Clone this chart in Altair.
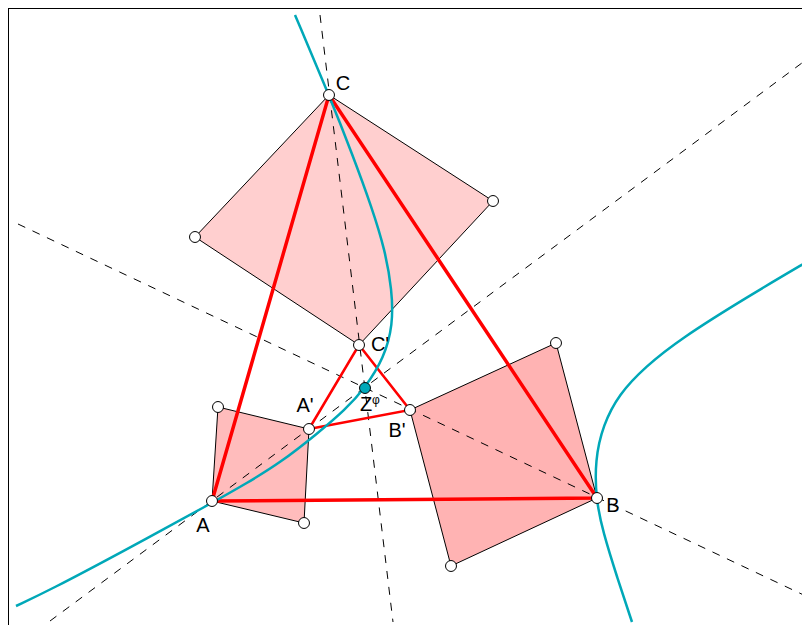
import altair as alt
import pandas as pd

# Vertices of the triangle and of the inner triangle (picture coordinates)
A = (212, 501); B = (597, 498); C = (329, 95)
A1 = (309, 429); B1 = (410, 410); C1 = (359, 345)
Z = (365, 388)

square_a = [A, (218, 407), A1, (304, 523), A]
square_b = [B, (556, 343), B1, (451, 566), B]
square_c = [C, (195, 237), C1, (493, 201), C]

dash_a = [(50, 621), (810, 57)]
dash_b = [(18, 224), (810, 598)]
dash_c = [(320, 15), (393, 622)]

tri_big = [A, B, C, A]
tri_small = [A1, B1, C1, A1]

branch_1 = [(295, 15), (295, 15), (329, 95), (353, 156), (372, 208), (385, 250),
            (392, 290), (393, 325), (384, 358), (365, 388), (345, 410), (318, 433),
            (280, 463), (247, 483), (212, 503), (120, 553), (50, 590), (16, 606), (16, 606)]
branch_2 = [(810, 260), (810, 260), (747, 297), (680, 339), (645, 367), (619, 394),
            (603, 425), (595, 460), (596, 500), (603, 532), (617, 577), (632, 622), (632, 622)]

open_points = [A, B, C, A1, B1, C1, (218, 407), (304, 523), (556, 343), (451, 566), (195, 237), (493, 201)]

label_text = ["A", "B", "C", "A'", "B'", "C'", "Z"]
label_x = [203, 613, 343, 305, 397, 380, 366]
label_y = [526, 506, 84, 406, 431, 345, 405]

# The page gives the drawing 794 px of width; the top and left edges of the frame are the only ones seen
W, H = 794, 617
xs = alt.Scale(domain=[8, 8 + W], nice=False, zero=False)
ys = alt.Scale(domain=[8 + H, 8], nice=False, zero=False)
X = alt.X("x:Q", scale=xs, axis=None)
Y = alt.Y("y:Q", scale=ys, axis=None)


def frame(points):
    return pd.DataFrame({"x": [p[0] for p in points], "y": [p[1] for p in points], "i": range(len(points))})


def path(points, **mark):
    return alt.Chart(frame(points)).mark_line(clip=True, **mark).encode(x=X, y=Y, order="i:Q")


teal = "#00a8b8"
layers = [
    path(square_a, fill="#ffbcbc", stroke="black", strokeWidth=1),
    path(square_b, fill="#ffb3b3", stroke="black", strokeWidth=1),
    path(square_c, fill="#ffcfcf", stroke="black", strokeWidth=1),
    path(dash_a, stroke="black", strokeWidth=1, strokeDash=[8, 8]),
    path(dash_b, stroke="black", strokeWidth=1, strokeDash=[8, 8]),
    path(dash_c, stroke="black", strokeWidth=1, strokeDash=[8, 8]),
    path(tri_big, stroke="red", strokeWidth=3.5),
    path(tri_small, stroke="red", strokeWidth=2.5),
    path(branch_1, stroke=teal, strokeWidth=2.5, interpolate="basis"),
    path(branch_2, stroke=teal, strokeWidth=2.5, interpolate="basis"),
    path([(8, 8), (810, 8)], stroke="black", strokeWidth=2),
    path([(8, 8), (8, 625)], stroke="black", strokeWidth=2),
]

labels = pd.DataFrame({"x": label_x, "y": label_y, "t": label_text})
layers.append(
    alt.Chart(labels).mark_text(font="Liberation Sans", fontSize=20, color="black").encode(x=X, y=Y, text="t:N")
)
layers.append(
    alt.Chart(pd.DataFrame({"x": [376], "y": [400], "t": ["φ"]})).mark_text(
        font="Liberation Sans", fontSize=12, color="black"
    ).encode(x=X, y=Y, text="t:N")
)
layers.append(
    alt.Chart(frame(open_points)).mark_point(filled=True, fill="white", stroke="black", strokeWidth=1, size=120, opacity=1).encode(x=X, y=Y)
)
layers.append(
    alt.Chart(frame([Z])).mark_point(filled=True, fill=teal, stroke="black", strokeWidth=1, size=120, opacity=1).encode(x=X, y=Y)
)

chart = alt.layer(*layers).properties(
    width=W, height=H, padding=0, autosize=alt.AutoSizeParams(type="none")
).configure_view(stroke=None)

chart.save("out.html", embed_options={"renderer": "svg", "actions": False})
